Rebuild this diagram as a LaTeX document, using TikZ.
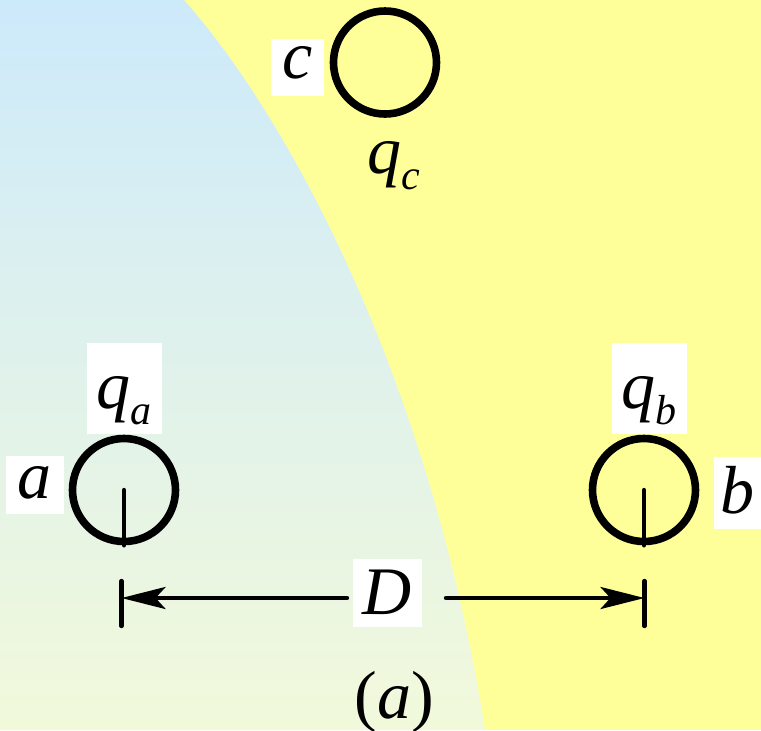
\documentclass[tikz,border=0pt]{standalone}
\usepackage{fontspec}
\setmainfont{Liberation Serif}
\usepackage{xcolor}
\usetikzlibrary{arrows.meta}
\definecolor{field}{RGB}{255,255,153}
\definecolor{skytop}{RGB}{205,234,251}
\definecolor{skybottom}{RGB}{242,249,219}
\newcommand{\charge}[1]{\textit{q}\raisebox{-8pt}{\fontsize{21}{24}\selectfont\textit{#1}}}

\begin{document}
\begin{tikzpicture}[x=0.5pt, y=-0.5pt,
    every node/.style={font=\fontsize{34}{40}\selectfont\itshape},
    wire/.style={draw, circle, line width=3.8pt, minimum size=51.5pt, inner sep=0pt},
    tag/.style={fill=white, inner sep=0pt, anchor=base},
    bar/.style={line width=2.2pt, line cap=round},
    dim/.style={bar, -{Stealth[length=22pt, width=11pt, inset=5pt]}}
    ]
    \useasboundingbox (0,0) rectangle (761,730);
    \fill[field] (0,0) rectangle (761,730);
    \shade[top color=skytop, bottom color=skybottom]
        (0,0) -- (184,0) .. controls (290,120) and (430,380) .. (485,730)
        -- (0,730) -- cycle;

    \node[wire] (cc) at (385,62.5) {};
    \node[wire] (ca) at (124,490) {};
    \node[wire] (cb) at (644,490) {};

    \node[tag, minimum width=26.4pt, text height=19.5pt, text depth=9pt] (lc) at (297.5,78) {c};
    \node[tag, minimum width=29pt, text height=21pt, text depth=7.75pt] (la) at (34.7,498) {a};
    \node[tag, minimum width=23.5pt, text height=28pt, text depth=8pt] (lb) at (737.5,513) {b};
    \node[tag, minimum width=37.5pt, text height=32.7pt, text depth=13pt] (qa) at (124.2,408) {\charge{a}};
    \node[tag, minimum width=37.5pt, text height=32.7pt, text depth=13pt] (qb) at (649.3,408) {\charge{b}};
    \node[anchor=base, inner sep=0pt] (qc) at (394,173) {\charge{c}};
    \node[tag, minimum width=34.5pt, text height=27.75pt, text depth=6.25pt] (dist) at (387.5,614.5) {D};
    \node[anchor=base, inner sep=0pt, font=\fontsize{34}{40}\selectfont] (cap) at (394,718) {(\textit{a})};

    \draw[bar] (ca.center) -- (ca.south);
    \draw[bar] (cb.center) -- (cb.south);

    \coordinate (ta) at (121.5,598);
    \coordinate (tb) at (644.5,598);
    \coordinate (dl) at (347,598);
    \coordinate (dr) at (446,598);
    \draw[bar] ([yshift=8.5pt]ta) -- ([yshift=-14pt]ta);
    \draw[bar] ([yshift=8.5pt]tb) -- ([yshift=-14pt]tb);
    \draw[dim] (dl) -- (ta);
    \draw[dim] (dr) -- (tb);
\end{tikzpicture}
\end{document}
